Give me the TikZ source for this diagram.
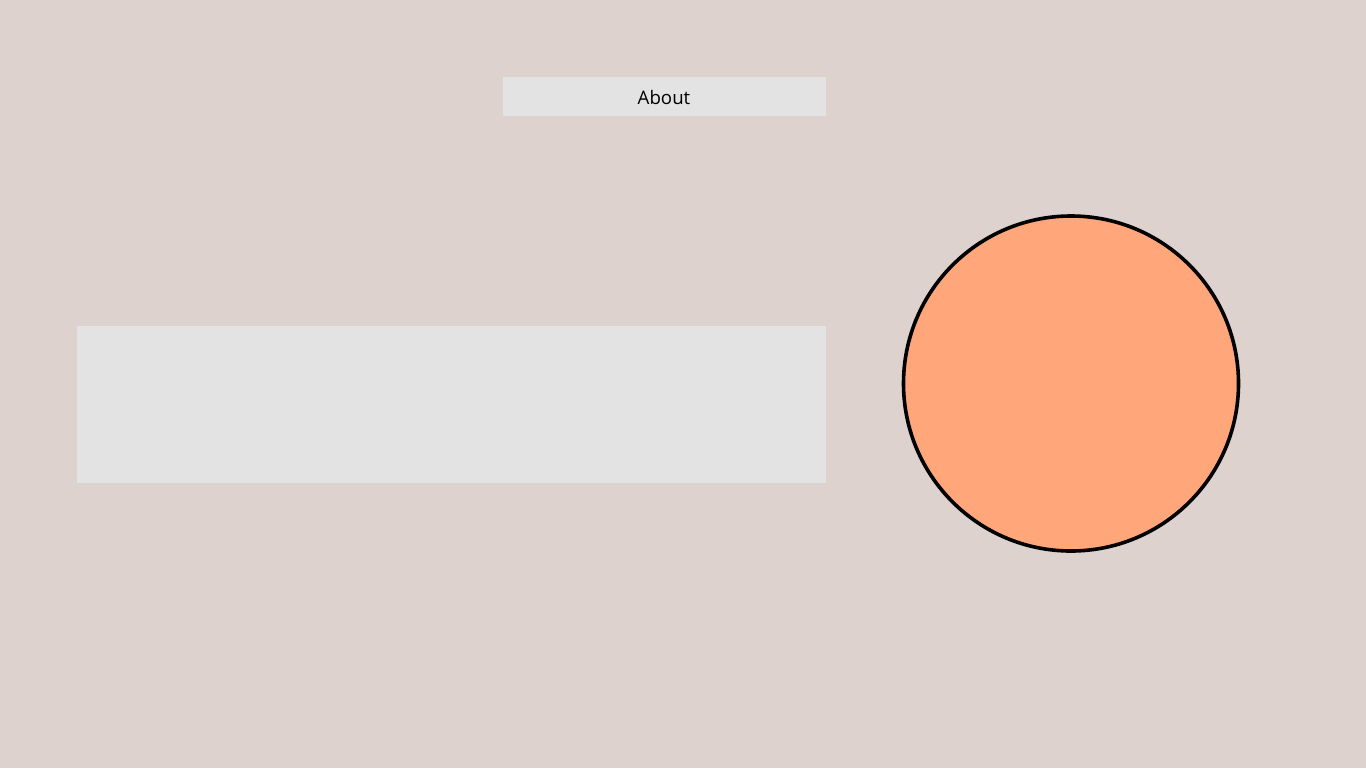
\documentclass[tikz,border=0pt]{standalone}
\usepackage{fontspec}
\setmainfont{Open Sans}
\definecolor{bgc}{HTML}{DDD2CD}
\definecolor{boxc}{HTML}{E3E3E3}
\definecolor{circc}{HTML}{FFA77A}
\begin{document}
\begin{tikzpicture}[x=0.75pt,y=-0.75pt,
  panel/.style={fill=boxc,draw=none,inner sep=0pt,outer sep=0pt},
  ball/.style={circle,fill=circc,draw=black,line width=2.7pt,inner sep=0pt,minimum size=335*0.75pt}]
\fill[bgc] (0,0) rectangle (1366,768);
\useasboundingbox (0,0) rectangle (1366,768);
\node[panel,minimum width=323*0.75pt,minimum height=39*0.75pt] (about) at (664,96) {};
\node[font=\fontsize{14pt}{16pt}\selectfont,inner sep=0pt] (abouttext) at (664,97) {About};
\node[panel,minimum width=749*0.75pt,minimum height=157*0.75pt] (content) at (451.5,404) {};
\node[ball] (circ) at (1071,383.5) {};
\end{tikzpicture}
\end{document}
